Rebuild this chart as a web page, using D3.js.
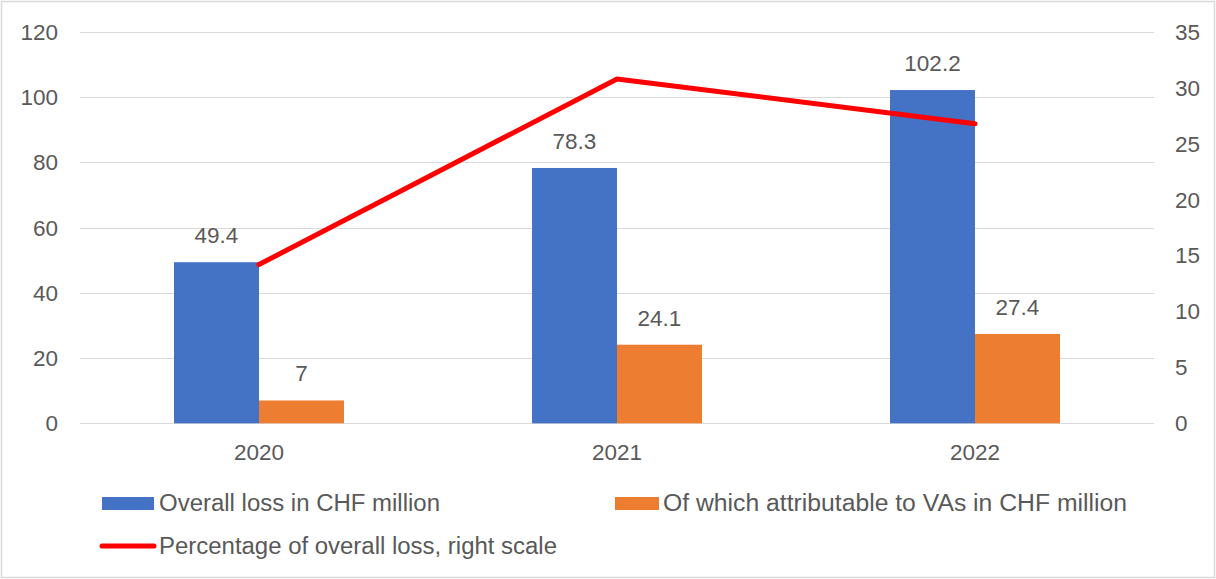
<!DOCTYPE html>
<meta charset="utf-8">
<style>
body { margin: 0; background: #fff; }
text { font-family: "Liberation Sans", Arial, sans-serif; fill: #595959; }
.grid line { stroke: #d9d9d9; stroke-width: 1px; }
</style>
<body>
  <svg></svg>
</body>
<script src="https://cdn.jsdelivr.net/npm/d3@7"></script>
<script>

var years = ["2020", "2021", "2022"];
var overallLoss = [49.4, 78.3, 102.2];
var vaLoss = [7, 24.1, 27.4];
var pctOverall = [14.2, 30.8, 26.8];
var leftTicks = [0, 20, 40, 60, 80, 100, 120];
var rightTicks = [0, 5, 10, 15, 20, 25, 30, 35];
var seriesNames = ["Overall loss in CHF million", "Of which attributable to VAs in CHF million", "Percentage of overall loss, right scale"];

renderChart();

function renderChart() {

  var width = 1216, height = 579;
  var svg = d3.select("svg").attr("width", width).attr("height", height);

  var plotLeft = 80, plotRight = 1154, plotTop = 32, plotBottom = 423.3;
  var fs = "22.5px";

  // outer frame
  svg.append("rect")
      .attr("x", 1.5).attr("y", 1.5)
      .attr("width", width - 3).attr("height", height - 3)
      .attr("fill", "#fff").attr("stroke", "#d9d9d9").attr("stroke-width", 1.5);

  var x = d3.scaleBand().domain(years).range([plotLeft, plotRight]);
  var y = d3.scaleLinear().domain([0, 120]).range([plotBottom, plotTop]);
  var y2 = d3.scaleLinear().domain([0, 35]).range([plotBottom, plotTop]);
  var barW = 85;

  // gridlines
  svg.append("g").attr("class", "grid")
    .selectAll("line").data(leftTicks).enter().append("line")
      .attr("x1", plotLeft).attr("x2", plotRight)
      .attr("y1", function(d) { return Math.round(y(d)) + 0.5; })
      .attr("y2", function(d) { return Math.round(y(d)) + 0.5; });

  // left axis labels
  svg.append("g").selectAll("text").data(leftTicks).enter().append("text")
      .attr("x", 58).attr("y", function(d) { return y(d); })
      .attr("dy", "0.35em").attr("text-anchor", "end")
      .style("font-size", fs)
      .text(function(d) { return d; });

  // right axis labels
  svg.append("g").selectAll("text").data(rightTicks).enter().append("text")
      .attr("x", 1175).attr("y", function(d) { return y2(d); })
      .attr("dy", "0.35em").attr("text-anchor", "start")
      .style("font-size", fs)
      .text(function(d) { return d; });

  // x labels
  svg.append("g").selectAll("text").data(years).enter().append("text")
      .attr("x", function(d) { return x(d) + x.bandwidth() / 2; })
      .attr("y", 452).attr("dy", "0.35em").attr("text-anchor", "middle")
      .style("font-size", fs)
      .text(function(d) { return d; });

  // bars
  var bars = svg.append("g");
  bars.selectAll("rect.overall").data(overallLoss).enter().append("rect")
      .attr("class", "overall")
      .attr("x", function(d, i) { return x(years[i]) + x.bandwidth() / 2 - barW; })
      .attr("y", function(d) { return y(d); })
      .attr("width", barW)
      .attr("height", function(d) { return y(0) - y(d); })
      .attr("fill", "#4472C4");
  bars.selectAll("rect.va").data(vaLoss).enter().append("rect")
      .attr("class", "va")
      .attr("x", function(d, i) { return x(years[i]) + x.bandwidth() / 2; })
      .attr("y", function(d) { return y(d); })
      .attr("width", barW)
      .attr("height", function(d) { return y(0) - y(d); })
      .attr("fill", "#ED7D31");

  // bar labels
  svg.append("g").selectAll("text").data(overallLoss).enter().append("text")
      .attr("x", function(d, i) { return x(years[i]) + x.bandwidth() / 2 - barW / 2; })
      .attr("y", function(d) { return y(d) - 27; })
      .attr("dy", "0.35em").attr("text-anchor", "middle")
      .style("font-size", fs)
      .text(function(d) { return d; });
  svg.append("g").selectAll("text").data(vaLoss).enter().append("text")
      .attr("x", function(d, i) { return x(years[i]) + x.bandwidth() / 2 + barW / 2; })
      .attr("y", function(d) { return y(d) - 27; })
      .attr("dy", "0.35em").attr("text-anchor", "middle")
      .style("font-size", fs)
      .text(function(d) { return d; });

  // line, right scale
  var line = d3.line()
      .x(function(d, i) { return x(years[i]) + x.bandwidth() / 2; })
      .y(function(d) { return y2(d); });
  svg.append("path")
      .datum(pctOverall)
      .attr("d", line)
      .attr("fill", "none")
      .attr("stroke", "#FF0000")
      .attr("stroke-width", 5)
      .attr("stroke-linecap", "round")
      .attr("stroke-linejoin", "round");

  // legend
  var lfs = "23.5px";
  var lg = svg.append("g");
  lg.append("rect").attr("x", 102).attr("y", 497).attr("width", 52).attr("height", 13).attr("fill", "#4472C4");
  lg.append("text").attr("x", 159).attr("y", 503).attr("dy", "0.35em").style("font-size", lfs)
      .attr("textLength", 281).attr("lengthAdjust", "spacingAndGlyphs").text(seriesNames[0]);
  lg.append("rect").attr("x", 615).attr("y", 497).attr("width", 44).attr("height", 13).attr("fill", "#ED7D31");
  lg.append("text").attr("x", 663).attr("y", 503).attr("dy", "0.35em").style("font-size", lfs)
      .attr("textLength", 464).attr("lengthAdjust", "spacingAndGlyphs").text(seriesNames[1]);
  lg.append("line").attr("x1", 102).attr("x2", 154).attr("y1", 546).attr("y2", 546)
      .attr("stroke", "#FF0000").attr("stroke-width", 5).attr("stroke-linecap", "round");
  lg.append("text").attr("x", 159).attr("y", 546).attr("dy", "0.35em").style("font-size", lfs)
      .attr("textLength", 398).attr("lengthAdjust", "spacingAndGlyphs").text(seriesNames[2]);
}

</script>
